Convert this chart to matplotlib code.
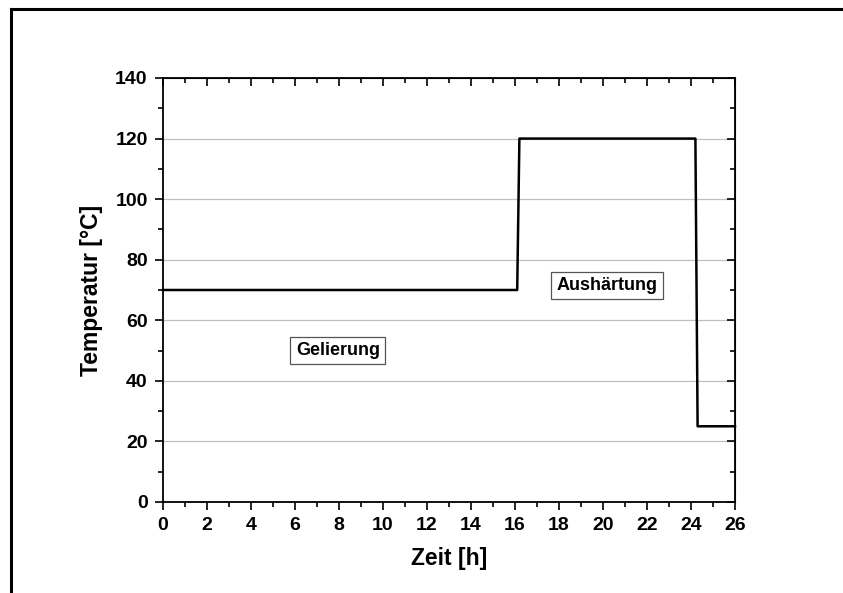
import matplotlib
matplotlib.use("Agg")
import matplotlib.pyplot as plt
from matplotlib.lines import Line2D
from matplotlib.ticker import MultipleLocator

# Temperaturprofil: Gelierung bei 70 °C, Aushärtung bei 120 °C
zeit = [0, 16.1, 16.2, 24.2, 24.3, 26]
temperatur = [70, 70, 120, 120, 25, 25]

x_ticks = list(range(0, 27, 2))
y_ticks = list(range(0, 141, 20))

plt.rcParams['font.family'] = ['Liberation Sans', 'DejaVu Sans']
plt.rcParams['font.weight'] = 'bold'

fig = plt.figure(figsize=(8.43, 5.93), dpi=100)
ax = fig.add_axes([163 / 843, 1 - 502 / 593, (735 - 163) / 843, (502 - 78) / 593])

# Rahmen um die Grafik (rechts und unten abgeschnitten)
fig.add_artist(Line2D([11 / 843, 1.0], [1 - 9 / 593, 1 - 9 / 593], color='black', lw=2.2))
fig.add_artist(Line2D([11 / 843, 11 / 843], [0.0, 1 - 9 / 593], color='black', lw=2.2))

for y in y_ticks[1:-1]:
    ax.axhline(y, color='#c0c0c0', lw=0.9, zorder=0)

ax.plot(zeit, temperatur, color='black', lw=1.8, clip_on=False)

ax.set_xlim(0, 26)
ax.set_ylim(0, 140)
ax.set_xticks(x_ticks)
ax.set_yticks(y_ticks)
ax.xaxis.set_minor_locator(MultipleLocator(1))
ax.yaxis.set_minor_locator(MultipleLocator(10))
ax.tick_params(which='both', direction='out', width=1.2, labelsize=14)
ax.tick_params(axis='y', pad=5)
ax.tick_params(axis='x', pad=5)
ax.tick_params(which='major', length=6)
ax.tick_params(which='minor', length=3.5)
for spine in ax.spines.values():
    spine.set_linewidth(1.3)

# oben/rechts: Ticks nach innen, ohne Beschriftung
ax2 = ax.secondary_xaxis('top')
ax2.set_xticks(x_ticks)
ax2.xaxis.set_minor_locator(MultipleLocator(1))
ax2.tick_params(which='both', direction='in', width=1.2, labeltop=False)
ax2.tick_params(which='major', length=6)
ax2.tick_params(which='minor', length=3.5)
ax3 = ax.secondary_yaxis('right')
ax3.set_yticks(y_ticks)
ax3.yaxis.set_minor_locator(MultipleLocator(10))
ax3.tick_params(which='both', direction='in', width=1.2, labelright=False)
ax3.tick_params(which='major', length=6)
ax3.tick_params(which='minor', length=3.5)

ax.set_xlabel('Zeit [h]', fontsize=16.5, fontweight='bold', labelpad=9)
ax.set_ylabel('Temperatur [°C]', fontsize=16.5, fontweight='bold', labelpad=9)

box = dict(boxstyle='square,pad=0.3', fc='white', ec='#555555', lw=0.9)
ax.text(7.95, 50, 'Gelierung', ha='center', va='center', fontsize=13,
        fontweight='bold', bbox=box)
ax.text(20.2, 71.5, 'Aushärtung', ha='center', va='center', fontsize=13,
        fontweight='bold', bbox=box)

fig.savefig('out.png', dpi=100)
